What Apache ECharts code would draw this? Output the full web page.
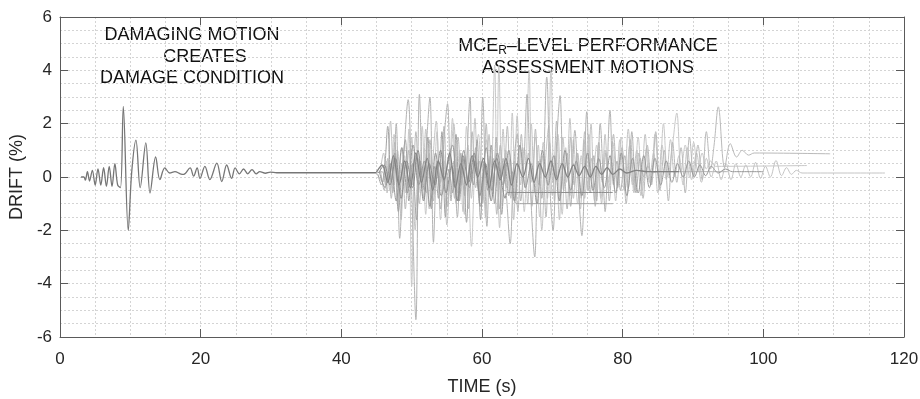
<!DOCTYPE html>
<html>
<head>
<meta charset="utf-8">
<script src="https://cdn.jsdelivr.net/npm/echarts@6/dist/echarts.min.js"></script>
<style>
  html, body { margin: 0; padding: 0; background: #fff; }
  #chart { width: 920px; height: 399px; }
</style>
</head>
<body>
<div id="chart"></div>
<script>
// 轴刻度
const xTicks = [0, 20, 40, 60, 80, 100, 120];
const yTicks = [-6, -4, -2, 0, 2, 4, 6];

// 损伤地震动 [时间 s, 层间位移角 %]
const damagingMotion = [[3.0,0],[3.4,0.0],[3.6,-0.12],[3.9,0.2],[4.2,-0.15],[4.6,0.25],[5.0,-0.3],[5.4,0.3],[5.8,-0.3],[6.2,0.35],[6.6,-0.35],[7.0,0.4],[7.4,-0.35],[7.8,0.5],[8.2,-0.3],[8.6,-0.4],[9.0,2.65],[9.7,-2.0],[10.2,0.2],[10.8,1.38],[11.4,-0.4],[12.2,1.28],[12.8,-0.6],[13.6,0.75],[14.2,-0.1],[14.9,0.34],[15.6,0.15],[16.35,0.2],[17.1,0.12],[17.6,0.1],[18.5,0.34],[19.0,0.03],[19.5,0.34],[19.9,-0.05],[20.6,0.4],[21.3,-0.1],[22.3,0.52],[23.0,-0.17],[23.7,0.45],[24.4,-0.05],[24.9,0.34],[25.5,0.12],[26.1,0.3],[26.7,0.12],[27.3,0.28],[27.9,0.12],[28.4,0.2],[29.2,0.14],[29.9,0.18],[30.8,0.16],[45.0,0.16]];

// MCE_R 水准评估地震动
const motionA = [[45.1,0.12],[45.9,-0.2],[46.4,0.6],[46.9,-0.5],[47.5,1.6],[48.0,-1.0],[48.6,1.1],[49.1,-0.6],[49.6,1.8],[50.0,-4.1],[50.5,0.8],[51.0,-0.6],[51.5,1.9],[52.0,-1.4],[52.5,0.9],[53.0,-0.7],[53.6,1.7],[54.1,-1.6],[54.7,0.6],[55.2,-0.5],[55.8,2.2],[56.3,-1.0],[56.8,1.0],[57.3,-1.3],[57.8,1.9],[58.5,-2.6],[59.0,0.5],[59.5,1.6],[60.0,-0.9],[60.6,1.4],[61.2,-0.8],[61.8,4.2],[62.1,-0.3],[62.4,4.2],[62.9,-1.1],[63.4,1.0],[63.9,-0.6],[64.3,2.4],[64.8,-0.9],[65.4,1.2],[66.0,-1.3],[66.7,3.95],[67.1,-0.2],[67.6,1.5],[68.2,-1.5],[68.7,1.3],[69.3,-0.8],[69.8,4.0],[70.3,-0.9],[70.8,1.6],[71.4,-1.4],[71.9,1.1],[72.5,-0.7],[73.0,1.4],[73.6,-1.0],[74.1,0.8],[74.6,-0.8],[75.2,1.6],[75.7,-0.4],[76.3,1.2],[76.9,-0.8],[77.5,1.0],[78.0,-0.5],[78.6,1.3],[79.2,-0.3],[79.8,1.5],[80.4,-0.4],[81.0,1.2],[81.6,-0.6],[82.2,1.5],[82.8,-0.5],[83.4,1.1],[84.0,-0.3],[84.6,1.6],[85.2,-0.4],[85.8,2.0],[86.4,0.0],[87.0,1.0],[87.7,2.4],[88.3,0.2],[88.9,1.2],[89.5,0.0],[90.1,1.3],[90.7,0.2],[91.3,0.9],[91.9,0.3],[92.5,0.6],[93.2,0.4],[106.2,0.43]];

const motionB = [[45.5,0.15],[46.0,0.9],[46.5,-0.6],[47.0,2.1],[47.5,-0.3],[48.0,1.0],[48.5,-1.6],[49.0,0.8],[49.5,-0.4],[50.0,1.5],[50.5,-2.0],[51.0,0.7],[51.5,-0.4],[52.0,1.8],[52.5,-1.2],[53.0,0.6],[53.5,2.1],[54.0,-0.5],[54.5,0.9],[55.0,-1.8],[55.5,0.4],[56.0,2.0],[56.5,-0.6],[57.0,0.8],[57.5,-1.4],[58.0,1.2],[58.5,-0.8],[59.0,2.2],[59.5,-0.5],[60.0,0.6],[60.5,-1.5],[61.0,1.6],[61.5,-0.7],[62.0,0.9],[62.5,-1.9],[63.0,1.8],[63.5,-0.4],[64.0,0.7],[64.5,-1.6],[65.0,2.3],[65.5,-0.3],[66.0,1.1],[66.5,-1.0],[67.0,2.0],[67.5,-0.6],[68.0,1.2],[68.5,-2.0],[69.0,0.5],[69.5,1.9],[70.0,-0.7],[70.5,0.8],[71.0,-1.6],[71.5,1.5],[72.0,-0.2],[72.5,2.2],[73.0,-0.8],[73.5,0.9],[74.0,-1.2],[74.5,1.4],[75.0,-0.5],[75.5,2.0],[76.0,-0.9],[76.5,0.6],[77.0,-1.0],[77.5,1.6],[78.0,-0.2],[78.5,1.0],[79.0,-0.9],[79.6,1.4],[80.2,-0.5],[80.8,1.8],[81.4,-0.3],[82.0,1.0],[82.6,-0.7],[83.2,1.6],[83.8,-0.2],[84.4,0.9],[85.0,-0.6],[85.6,1.2],[86.2,-0.1],[86.8,1.4],[87.4,0.0],[88.0,0.8],[88.6,-0.3],[89.2,1.1],[89.8,-0.1],[90.5,0.9],[91.2,-0.2],[91.9,0.7],[92.6,0.0],[93.3,0.6],[94.0,-0.1],[94.7,0.5],[95.4,-0.1],[96.1,0.5],[96.8,0.0],[97.5,0.45],[98.2,0.0],[98.9,0.55],[99.6,-0.05],[100.3,0.4],[101.0,0.0],[101.8,0.62],[102.6,0.05],[103.3,0.35],[104.0,0.1],[104.7,0.25],[105.5,0.15],[117.3,0.15]];

const motionC = [[45.6,0.2],[46.1,-0.5],[46.6,0.7],[47.1,-0.8],[47.6,1.3],[48.1,-0.4],[48.6,0.5],[49.1,-1.2],[49.6,1.0],[50.1,-0.3],[50.6,1.7],[51.1,-1.0],[51.6,0.4],[52.1,-0.6],[52.6,1.4],[53.1,-0.9],[53.6,0.6],[54.1,-0.2],[54.6,1.9],[55.1,-1.1],[55.6,0.5],[56.1,-0.8],[56.6,1.5],[57.1,-0.3],[57.6,0.8],[58.1,-1.2],[58.6,1.7],[59.1,-0.4],[59.6,0.6],[60.1,-1.0],[60.6,2.0],[61.1,-0.6],[61.6,0.7],[62.1,-1.4],[62.6,1.2],[63.1,-0.1],[63.6,1.9],[64.1,-0.8],[64.6,0.6],[65.1,-1.3],[65.6,1.6],[66.1,-0.4],[66.6,0.9],[67.1,-1.1],[67.6,1.8],[68.1,-0.3],[68.6,0.8],[69.1,-1.5],[69.6,1.3],[70.1,-0.2],[70.6,2.1],[71.1,-0.9],[71.6,0.5],[72.1,-1.2],[72.6,1.5],[73.1,-0.3],[73.6,0.9],[74.1,-0.8],[74.6,1.7],[75.1,-0.5],[75.6,0.7],[76.1,-1.1],[76.6,1.3],[77.1,-0.2],[77.6,0.9],[78.1,-0.9],[78.7,1.6],[79.3,-0.4],[79.9,1.1],[80.5,-1.0],[81.1,1.4],[81.7,-0.5],[82.3,0.9],[82.9,-0.8],[83.5,1.2],[84.1,-0.3],[84.7,1.7],[85.3,-0.5],[85.9,1.0],[86.5,-0.9],[87.1,1.3],[87.7,-0.2],[88.3,1.1],[88.9,-0.6],[89.5,1.5],[90.1,0.0],[90.7,1.2],[91.3,-0.1],[91.9,1.7],[92.5,0.3],[93.0,1.2],[93.6,2.63],[94.5,0.35],[95.3,1.25],[96.2,0.75],[97.0,1.0],[97.9,0.82],[98.7,0.9],[109.5,0.87]];

const motionD = [[45.0,0.15],[45.8,0.2],[46.3,-0.3],[46.8,0.5],[47.3,-0.6],[47.8,2.0],[48.3,-2.3],[48.8,0.4],[49.5,2.9],[50.0,-0.5],[50.6,-5.35],[51.1,3.1],[51.7,-0.8],[52.1,1.2],[52.6,3.0],[53.1,-2.45],[53.6,0.5],[54.1,-1.2],[54.6,1.4],[55.1,2.75],[55.6,-0.9],[56.0,0.6],[56.5,-1.5],[57.0,0.9],[57.5,-0.7],[58.3,3.0],[58.6,-0.2],[59.1,1.1],[59.6,-1.0],[60.1,3.0],[60.7,-1.85],[61.2,0.8],[61.6,-0.4],[62.0,1.5],[62.5,-1.2],[63.0,0.7],[63.5,-0.8],[64.0,-2.5],[64.5,0.4],[65.0,1.6],[65.5,-0.9],[66.0,0.8],[66.4,3.1],[66.9,-0.5],[67.5,-3.0],[68.0,0.6],[68.5,-0.8],[69.2,3.75],[69.7,-0.6],[70.1,-2.0],[70.6,1.2],[71.1,3.05],[71.6,-0.5],[72.1,0.9],[72.6,-1.1],[73.2,1.75],[73.7,-0.4],[74.2,-2.2],[74.9,2.45],[75.4,-0.6],[75.9,0.8],[76.3,-0.9],[76.8,2.0],[77.3,-0.5],[77.5,-1.3],[78.2,2.5],[78.7,-0.3],[79.2,0.6],[79.7,-0.5],[80.3,0.8],[80.8,-0.4],[81.3,1.7],[81.9,-0.6],[82.5,0.7],[83.0,0.0],[83.6,0.4],[84.2,0.15],[85.0,0.2],[95.0,0.2]];

const motionE = [[45.2,0.1],[45.7,-0.3],[46.2,0.5],[46.6,1.9],[47.1,-0.2],[47.6,0.9],[48.1,-1.3],[48.6,0.2],[49.1,1.4],[49.6,-0.9],[50.1,0.5],[50.7,-1.6],[51.2,0.6],[51.8,-0.5],[52.3,1.5],[52.8,-1.2],[53.3,0.4],[53.8,-0.8],[54.3,1.7],[54.8,-1.5],[55.3,0.3],[55.8,-0.6],[56.3,1.6],[56.8,-0.9],[57.3,0.7],[57.8,-1.7],[58.3,0.5],[58.8,-0.3],[59.3,1.4],[59.8,-1.6],[60.3,0.6],[60.8,-0.5],[61.3,1.2],[61.8,-1.0],[62.3,0.4],[62.8,-1.4],[63.3,0.5],[63.8,-0.7],[64.3,0.2],[64.9,-1.0],[78.6,-1.0]];

const motionF = [[45.4,0.2],[46.2,-0.4],[47.0,0.5],[47.8,-0.9],[48.6,1.1],[49.4,-0.6],[50.2,1.2],[51.0,-0.3],[51.8,0.6],[52.6,-1.1],[53.4,0.9],[54.2,-0.7],[55.0,0.3],[55.8,1.2],[56.6,-0.9],[57.4,1.0],[58.2,-0.4],[59.0,0.6],[59.8,-1.1],[60.6,1.1],[61.4,-0.5],[62.2,0.9],[63.0,-0.3],[63.8,1.0],[64.6,-0.9],[65.4,1.2],[66.2,-0.4],[67.0,0.5],[67.8,-1.0],[68.6,1.0],[69.4,-0.3],[70.2,0.8],[71.0,-0.9],[71.8,1.0],[72.6,-0.5],[73.4,0.6],[74.2,-0.7],[75.0,0.9],[75.8,-0.5],[76.6,0.7],[77.4,-0.4],[78.2,0.8],[79.0,-0.6],[79.8,0.9],[80.6,-0.7],[81.4,0.7],[82.2,-0.6],[83.0,0.8],[83.8,-0.4],[84.6,0.7],[85.4,-0.3],[86.2,0.6],[87.0,-0.2],[87.8,0.5],[88.6,0.0],[89.4,0.6],[90.2,0.0],[91.0,0.45],[91.8,0.05],[92.6,0.4],[93.6,0.15],[94.6,0.3],[95.6,0.2],[100.0,0.2]];

const motionG = [[45.3,0.15],[46.1,0.45],[46.9,-0.3],[47.7,0.7],[48.5,-0.8],[49.3,0.6],[50.1,-0.4],[50.9,1.0],[51.7,-0.9],[52.5,0.5],[53.3,-0.3],[54.1,1.0],[54.9,-0.6],[55.7,0.4],[56.5,-0.9],[57.3,0.8],[58.1,-0.2],[58.9,0.9],[59.7,-0.7],[60.5,0.5],[61.3,-0.9],[62.1,0.7],[62.9,-0.4],[63.3,-0.8],[63.6,-0.58],[78.6,-0.58]];

const motionH = [[45.0,0.18],[45.8,0.45],[46.6,-0.2],[47.4,0.8],[48.2,-0.3],[49.0,0.6],[49.8,-0.4],[50.6,0.9],[51.4,-0.2],[52.2,0.7],[53.0,-0.5],[53.8,0.6],[54.6,-0.1],[55.4,0.9],[56.2,-0.4],[57.0,0.5],[57.8,-0.3],[58.6,0.8],[59.4,0.0],[60.2,0.7],[61.0,-0.4],[61.8,0.6],[62.6,-0.1],[63.4,0.7],[64.2,-0.3],[65.0,0.5],[65.8,0.0],[66.6,0.7],[67.4,-0.2],[68.2,0.5],[69.0,0.0],[69.8,0.6],[70.6,-0.1],[71.4,0.5],[72.2,0.0],[73.0,0.45],[73.8,0.05],[74.6,0.4],[75.4,0.0],[76.2,0.4],[77.0,0.1],[77.8,0.35],[78.6,0.1],[79.6,0.3],[80.6,0.15],[82.0,0.25],[83.5,0.2],[88.0,0.2]];

const chart = echarts.init(document.getElementById('chart'), null, { renderer: 'canvas' });

const FONT = 'Liberation Sans, Arial, sans-serif';
const AXIS_COLOR = '#5a5a5a';
const gridDash = { color: '#d4d4d4', width: 1, type: [2, 2] };

// 生成一条曲线系列
const line = (name, data, color, width) => ({
    name,
    type: 'line',
    data,
    symbol: 'none',
    silent: true,
    smooth: 0.35,
    lineStyle: { color, width }
});

// 上方/右侧镜像坐标轴，只画刻度
const mirrorAxis = (position, min, max, interval) => ({
    type: 'value',
    position,
    min,
    max,
    interval,
    axisLine: { show: true, onZero: false, lineStyle: { color: AXIS_COLOR, width: 1 } },
    axisTick: { show: true, inside: true, length: 8, lineStyle: { color: AXIS_COLOR } },
    axisLabel: { show: false },
    splitLine: { show: false }
});

const text = (str, x, y, extra) => ({
    type: 'text',
    x, y,
    style: Object.assign({ text: str, font: '18px ' + FONT, fill: '#111', align: 'center', verticalAlign: 'middle' }, extra || {})
});

const option = {
    animation: false,
    backgroundColor: '#fff',
    grid: { left: 60, right: 16, top: 17, bottom: 62, containLabel: false, outerBoundsMode: 'none' },
    xAxis: [
        {
            type: 'value',
            min: xTicks[0],
            max: xTicks[xTicks.length - 1],
            interval: 20,
            name: 'TIME (s)',
            nameLocation: 'middle',
            nameGap: 41,
            nameTextStyle: { fontFamily: FONT, fontSize: 18, color: '#262626' },
            axisLine: { show: true, onZero: false, lineStyle: { color: AXIS_COLOR, width: 1 } },
            axisTick: { show: true, inside: true, length: 8, lineStyle: { color: AXIS_COLOR } },
            axisLabel: { fontFamily: FONT, fontSize: 17, color: '#262626', margin: 14 },
            splitLine: { show: true, lineStyle: gridDash },
            minorTick: { show: false, splitNumber: 4 },
            minorSplitLine: { show: true, lineStyle: gridDash }
        },
        mirrorAxis('top', xTicks[0], xTicks[xTicks.length - 1], 20)
    ],
    yAxis: [
        {
            type: 'value',
            min: yTicks[0],
            max: yTicks[yTicks.length - 1],
            interval: 2,
            name: 'DRIFT (%)',
            nameLocation: 'middle',
            nameGap: 31,
            nameRotate: 90,
            nameTextStyle: { fontFamily: FONT, fontSize: 18, color: '#262626' },
            axisLine: { show: true, onZero: false, lineStyle: { color: AXIS_COLOR, width: 1 } },
            axisTick: { show: true, inside: true, length: 8, lineStyle: { color: AXIS_COLOR } },
            axisLabel: { fontFamily: FONT, fontSize: 17, color: '#262626', margin: 8 },
            splitLine: { show: true, lineStyle: gridDash },
            minorTick: { show: false, splitNumber: 4 },
            minorSplitLine: { show: true, lineStyle: gridDash }
        },
        mirrorAxis('right', yTicks[0], yTicks[yTicks.length - 1], 2)
    ],
    series: [
        line('A', motionA, '#c9c9c9', 1),
        line('B', motionB, '#c4c4c4', 1),
        line('C', motionC, '#bababa', 1),
        line('D', motionD, '#b3b3b3', 1),
        line('E', motionE, '#a3a3a3', 1),
        line('F', motionF, '#989898', 1),
        line('G', motionG, '#8c8c8c', 1),
        line('H', motionH, '#828282', 1.3),
        line('damaging', damagingMotion, '#767676', 1.3)
    ],
    graphic: [
        text('DAMAGING MOTION', 192, 35),
        text('CREATES', 205, 57),
        text('DAMAGE CONDITION', 192, 78),
        text('MCE{sub|R}–LEVEL PERFORMANCE', 588, 46, {
            rich: { sub: { fontSize: 12, fontFamily: FONT, fill: '#111', padding: [10, 0, 0, 0] } }
        }),
        text('ASSESSMENT MOTIONS', 588, 68)
    ]
};

chart.setOption(option);
</script>
</body>
</html>
